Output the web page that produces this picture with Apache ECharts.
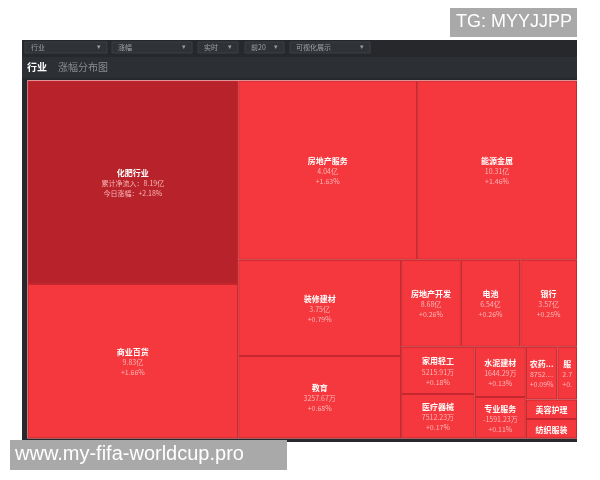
<!DOCTYPE html>
<html>
<head>
<meta charset="utf-8">
<script src="https://cdn.jsdelivr.net/npm/echarts@6/dist/echarts.min.js"></script>
<style>
  html, body { margin: 0; padding: 0; background: #fff; }
  #ec { width: 600px; height: 480px; }
</style>
</head>
<body>
<div id="ec"></div>
<script>
// 行业涨幅分布 - 块面积按图估算
var names = ['化肥行业', '商业百货', '房地产服务', '能源金属', '装修建材', '教育', '房地产开发', '电池', '银行',
  '家用轻工', '医疗器械', '水泥建材', '专业服务', '农药兽药', '服装家纺', '美容护理', '纺织服装']
var sizes = [42837, 32522, 32041, 28640, 15681, 13406, 5190, 5147, 4930,
  3491, 3271, 2575, 2116, 1664, 1040, 1000, 990]
var flows = ['8.19亿', '9.83亿', '4.04亿', '10.31亿', '3.75亿', '3257.67万', '8.68亿', '6.54亿', '3.57亿',
  '5215.91万', '7512.23万', '1644.29万', '-1591.23万', '8752.25万', '2.75亿', '1206.33万', '985.12万']
var changes = ['+2.18%', '+1.66%', '+1.63%', '+1.46%', '+0.79%', '+0.68%', '+0.26%', '+0.26%', '+0.25%',
  '+0.18%', '+0.17%', '+0.13%', '+0.11%', '+0.09%', '+0.08%', '+0.05%', '+0.04%']
var menus = ['行业', '涨幅', '实时', '前20', '可视化展示']

var FONT = '"Noto Sans CJK SC", sans-serif'
var TEXT_H = 31 // 名称11 + 两行10

var ydata = names.map(function (n, i) {
  return {
    name: n, value: sizes[i], flow: flows[i], change: changes[i],
    itemStyle: { color: i === 0 ? '#b8232b' : '#f5383d' }
  }
})

// 顶部下拉框
var menuBoxes = [[25, 82], [112, 80], [198, 40], [245, 39], [290, 80]]
var graphics = [
  { type: 'rect', shape: { x: 22, y: 40, width: 555, height: 40 }, style: { fill: '#26282c' } },
  { type: 'rect', shape: { x: 22, y: 57, width: 555, height: 21 }, style: { fill: '#2c2f33' } },
  { type: 'rect', shape: { x: 22, y: 80, width: 5.5, height: 362 }, style: { fill: '#26282c' } },
  { type: 'rect', shape: { x: 22, y: 438, width: 555, height: 4 }, style: { fill: '#26282c' } },
  { type: 'text', x: 27, y: 62, style: { text: '行业', fill: '#ffffff', font: 'bold 10px ' + FONT } },
  { type: 'text', x: 58, y: 62, style: { text: '涨幅分布图', fill: '#8a8c90', font: '10px ' + FONT } }
]
menuBoxes.forEach(function (b, i) {
  graphics.push({ type: 'rect', shape: { x: b[0], y: 42, width: b[1], height: 11 },
    style: { fill: '#2f3236', stroke: '#3c3f44', lineWidth: 1 } })
  graphics.push({ type: 'text', x: b[0] + 6, y: 44, style: { text: menus[i], fill: '#a0a2a6', font: '7px ' + FONT } })
  graphics.push({ type: 'text', x: b[0] + b[1] - 10, y: 44, style: { text: '▾', fill: '#9a9ca0', font: '7px sans-serif' } })
})
// 水印
graphics.push({ type: 'rect', shape: { x: 450, y: 8, width: 127, height: 29 }, style: { fill: '#a9a9a9' } })
graphics.push({ type: 'text', x: 456, y: 13, style: { text: 'TG: MYYJJPP', fill: '#ffffff', font: '18px "Liberation Sans", sans-serif' } })
graphics.push({ type: 'rect', shape: { x: 10, y: 440, width: 277, height: 30 }, style: { fill: '#a9a9a9' } })
graphics.push({ type: 'text', x: 15, y: 444, style: { text: 'www.my-fifa-worldcup.pro', fill: '#ffffff', font: '20px "Liberation Sans", sans-serif' } })

var myEchart = echarts.init(document.getElementById('ec'))

function draw() {
  myEchart.setOption({
    animation: false,
    graphic: graphics,
    series: [
      {
        type: 'treemap',
        left: 27.5,
        top: 80.5,
        width: 549.5,
        height: 358,
        roam: false,
        nodeClick: false,
        breadcrumb: { show: false },
        visibleMin: 0,
        levels: [
          { itemStyle: { borderWidth: 0, gapWidth: 0 } },
          { itemStyle: { borderWidth: 1, borderColor: '#c4282e', gapWidth: 0 } }
        ],
        label: {
          show: true,
          position: 'inside',
          align: 'center',
          padding: 2,
          overflow: 'truncate',
          lineOverflow: 'truncate',
          fontFamily: FONT,
          formatter: function (p) {
            var d = p.data
            if (d.name === '化肥行业') {
              return '{n|' + d.name + '}\n{s|累计净流入：' + d.flow + '}\n{s|今日涨幅：' + d.change + '}'
            }
            return '{n|' + d.name + '}\n{s|' + d.flow + '}\n{s|' + d.change + '}'
          },
          rich: {
            n: { color: '#ffffff', fontSize: 8, fontWeight: 'bold', lineHeight: 11, fontFamily: FONT },
            s: { color: '#fbb6b8', fontSize: 7, lineHeight: 10, fontFamily: FONT }
          }
        },
        data: ydata
      }
    ]
  })
}
draw()

// 文字在块内垂直居中：读取treemap布局后加上顶部留白
try {
  var root = myEchart.getModel().getSeriesByIndex(0).getData().tree.root
  var hs = {}
  root.children.forEach(function (node) {
    hs[node.name] = node.getLayout().height
  })
  ydata.forEach(function (item) {
    var h = hs[item.name]
    if (h == null) return
    var top = h >= TEXT_H + 4 ? (h - TEXT_H) / 2 : Math.max(1, (h - 11) / 2)
    item.label = { padding: [top, 2, 0, 2] }
  })
  draw()
} catch (e) {}
</script>
</body>
</html>
